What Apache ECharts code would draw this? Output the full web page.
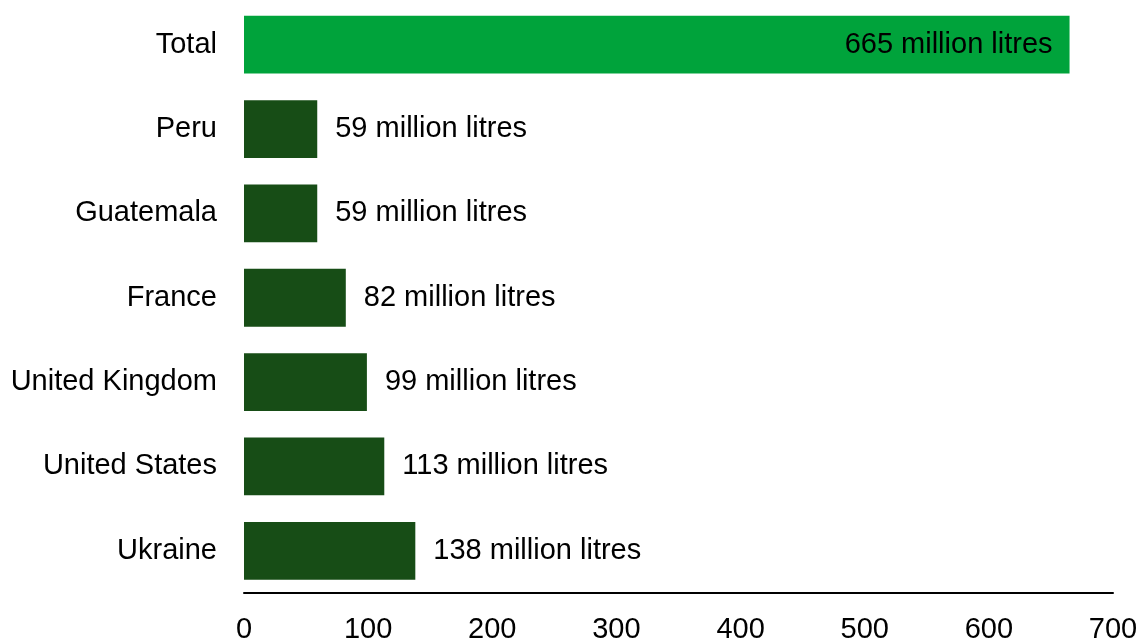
<!DOCTYPE html>
<html>
<head>
<meta charset="utf-8">
<script src="https://cdn.jsdelivr.net/npm/echarts@6/dist/echarts.min.js"></script>
<style>
  html, body { margin: 0; padding: 0; background: #ffffff; }
  #chart { width: 1142px; height: 644px; }
</style>
</head>
<body>
<div id="chart"></div>
<script>
// Wine volumes by country, million litres
const countries = ['Total', 'Peru', 'Guatemala', 'France', 'United Kingdom', 'United States', 'Ukraine'];
const volumes = [665, 59, 59, 82, 99, 113, 138];
const unitText = 'million litres';

const totalColor = '#00A33B';
const countryColor = '#174D16';
const fontFamily = '"Liberation Sans", Arial, sans-serif';
const fontSize = 29;

const chart = echarts.init(document.getElementById('chart'), null, { renderer: 'canvas' });

chart.setOption({
  animation: false,
  backgroundColor: '#ffffff',
  grid: { left: 244, right: 29, top: 2.5, bottom: 45.5, containLabel: false },
  xAxis: {
    type: 'value',
    min: 0,
    max: 700,
    interval: 100,
    axisLine: { show: true, lineStyle: { color: '#000000', width: 2 } },
    axisTick: { show: false },
    splitLine: { show: false },
    axisLabel: { color: '#000000', fontSize: fontSize, fontFamily: fontFamily, margin: 22 }
  },
  yAxis: {
    type: 'category',
    data: countries,
    inverse: true,
    axisLine: { show: false },
    axisTick: { show: false },
    axisLabel: { color: '#000000', fontSize: fontSize, fontFamily: fontFamily, margin: 27 }
  },
  series: [{
    type: 'bar',
    barCategoryGap: '31.5%',
    data: volumes.map((v, i) => ({
      value: v,
      itemStyle: { color: i === 0 ? totalColor : countryColor },
      label: i === 0
        ? { position: 'insideRight', distance: 17 }
        : { position: 'right', distance: 18 }
    })),
    label: {
      show: true,
      color: '#000000',
      fontSize: fontSize,
      fontFamily: fontFamily,
      formatter: p => p.value + ' ' + unitText
    }
  }]
});
</script>
</body>
</html>
